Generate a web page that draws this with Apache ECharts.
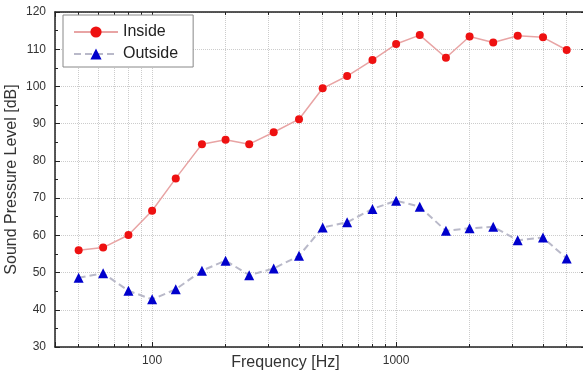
<!DOCTYPE html>
<html>
<head>
<meta charset="utf-8">
<script src="https://cdn.jsdelivr.net/npm/echarts@6/dist/echarts.min.js"></script>
<style>
html, body { margin: 0; padding: 0; background: #fff; }
#chart { width: 583px; height: 376px; }
</style>
</head>
<body>
<div id="chart"></div>
<script>
// 1/3 octave band centre frequencies [Hz]
var freqs = [50, 63, 80, 100, 125, 160, 200, 250, 315, 400, 500, 630, 800, 1000, 1250, 1600, 2000, 2500, 3150, 4000, 5000];
var inside = [56.0, 56.7, 60.1, 66.6, 75.3, 84.5, 85.7, 84.5, 87.7, 91.2, 99.5, 102.8, 107.1, 111.4, 113.8, 107.7, 113.4, 111.8, 113.6, 113.2, 109.8];
var outside = [48.6, 49.8, 45.1, 42.8, 45.5, 50.5, 53.2, 49.3, 51.1, 54.5, 62.1, 63.5, 67.1, 69.3, 67.7, 61.2, 61.9, 62.3, 58.7, 59.4, 53.8];
var xLabels = [100, 1000];
var minorFreqs = [50, 60, 70, 80, 90, 200, 300, 400, 500, 600, 700, 800, 900, 2000, 3000, 4000, 5000];

var font = 'Liberation Sans, Arial, sans-serif';

function pairs(xs, ys) {
    return xs.map(function (x, i) { return [x, ys[i]]; });
}

var gridLines = minorFreqs.map(function (f) { return { xAxis: f }; });
var minorTicks = [];
minorFreqs.forEach(function (f) {
    minorTicks.push([{ coord: [f, 30] }, { coord: [f, 30.8] }]);
    minorTicks.push([{ coord: [f, 120] }, { coord: [f, 119.2] }]);
});

var xLabelFmt = function (v) {
    var r = Math.round(v);
    return xLabels.indexOf(r) >= 0 ? String(r) : '';
};

var option = {
    animation: false,
    backgroundColor: '#fff',
    grid: { left: 55, right: -3, top: 12, bottom: 29, containLabel: false, outerBoundsMode: 'none' },
    legend: {
        orient: 'vertical',
        left: 63,
        top: 15,
        padding: [9, 15, 5, 10],
        itemGap: 6,
        itemWidth: 44,
        itemHeight: 14,
        backgroundColor: '#fff',
        borderColor: '#888',
        borderWidth: 1,
        textStyle: { fontFamily: font, fontSize: 16, color: '#222' },
        data: ['Inside', 'Outside']
    },
    xAxis: [{
        type: 'log',
        min: 40,
        max: 6000,
        name: 'Frequency [Hz]',
        nameLocation: 'middle',
        nameGap: 8,
        nameMoveOverlap: false,
        nameTextStyle: { fontFamily: font, fontSize: 16, color: '#333', verticalAlign: 'top', padding: [0, 70, 0, 0] },
        axisLine: { lineStyle: { color: '#222', width: 1.5 } },
        axisTick: { inside: true, length: 5, lineStyle: { color: '#222' } },
        axisLabel: { margin: 8, fontFamily: font, fontSize: 12, color: '#333', formatter: xLabelFmt },
        splitLine: { show: true, lineStyle: { type: 'dotted', color: '#ccc' } }
    }, {
        type: 'log',
        position: 'top',
        min: 40,
        max: 6000,
        axisLine: { lineStyle: { color: '#222', width: 1.5 } },
        axisTick: { inside: true, length: 5, lineStyle: { color: '#222' } },
        axisLabel: { show: false },
        splitLine: { show: false }
    }],
    yAxis: [{
        type: 'value',
        min: 30,
        max: 120,
        interval: 10,
        name: 'Sound Pressure Level [dB]',
        nameLocation: 'middle',
        nameGap: 35,
        nameMoveOverlap: false,
        nameTextStyle: { fontFamily: font, fontSize: 16, color: '#333' },
        axisLine: { show: true, lineStyle: { color: '#222', width: 1.5 } },
        axisTick: { show: true, inside: true, length: 5, lineStyle: { color: '#222' } },
        minorTick: { show: true, splitNumber: 2, length: 3, lineStyle: { color: '#222' } },
        axisLabel: { margin: 9, fontFamily: font, fontSize: 12, color: '#333' },
        splitLine: { show: true, lineStyle: { type: 'dotted', color: '#ccc' } }
    }, {
        type: 'value',
        position: 'right',
        min: 30,
        max: 120,
        interval: 10,
        axisLine: { show: true, lineStyle: { color: '#222', width: 1.5 } },
        axisTick: { show: true, inside: true, length: 5, lineStyle: { color: '#222' } },
        minorTick: { show: true, splitNumber: 2, length: 3, lineStyle: { color: '#222' } },
        axisLabel: { show: false },
        splitLine: { show: false }
    }],
    series: [{
        type: 'line',
        name: 'grid',
        data: [],
        silent: true,
        z: 1,
        markLine: {
            silent: true,
            z: 1,
            symbol: ['none', 'none'],
            label: { show: false },
            lineStyle: { type: 'dotted', color: '#ccc', width: 1 },
            emphasis: { disabled: true },
            data: gridLines
        }
    }, {
        type: 'line',
        name: 'ticks',
        data: [],
        silent: true,
        markLine: {
            silent: true,
            z: 3,
            symbol: ['none', 'none'],
            label: { show: false },
            lineStyle: { type: 'solid', color: '#222', width: 1 },
            emphasis: { disabled: true },
            data: minorTicks
        }
    }, {
        type: 'line',
        name: 'Inside',
        data: pairs(freqs, inside),
        symbol: 'circle',
        symbolSize: 8,
        itemStyle: { color: '#ee1111', borderWidth: 0 },
        lineStyle: { color: '#e8a4a4', width: 1.5 }
    }, {
        type: 'line',
        name: 'Outside',
        data: pairs(freqs, outside),
        symbol: 'triangle',
        symbolSize: 10,
        itemStyle: { color: '#0000cc', borderWidth: 0 },
        lineStyle: { color: '#b9b9c9', width: 2, type: [7, 4] }
    }]
};

var chart = echarts.init(document.getElementById('chart'), null, { renderer: 'canvas' });
chart.setOption(option);
</script>
</body>
</html>
